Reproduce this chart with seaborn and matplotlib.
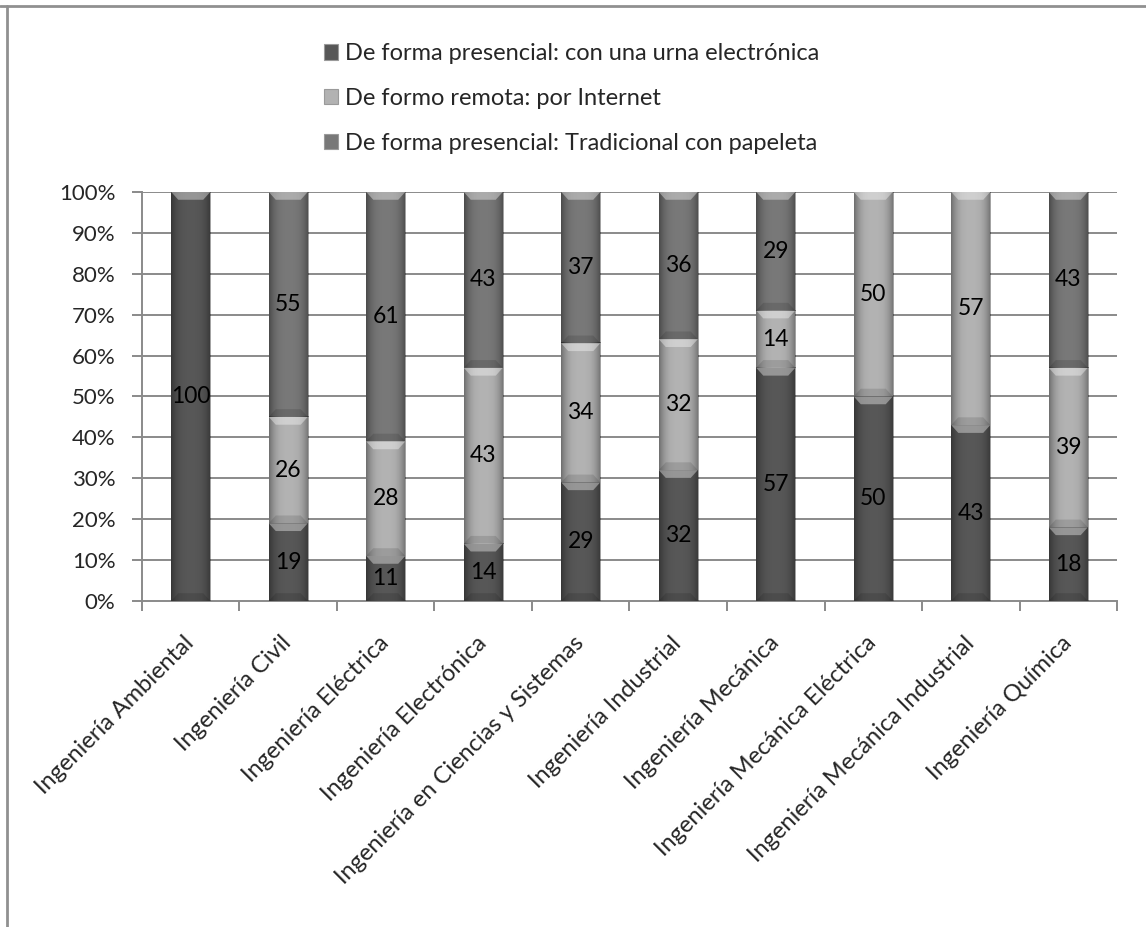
import numpy as np
import pandas as pd
import matplotlib
matplotlib.use("Agg")
import matplotlib.pyplot as plt
from matplotlib.lines import Line2D
from matplotlib.patches import Patch, Polygon
import seaborn as sns

carreras = [
    "Ingeniería Ambiental",
    "Ingeniería Civil",
    "Ingeniería Eléctrica",
    "Ingeniería Electrónica",
    "Ingeniería en Ciencias y Sistemas",
    "Ingeniería Industrial",
    "Ingeniería Mecánica",
    "Ingeniería Mecánica Eléctrica",
    "Ingeniería Mecánica Industrial",
    "Ingeniería Química",
]
urna_electronica = [100, 19, 11, 14, 29, 32, 57, 50, 43, 18]
por_internet = [0, 26, 28, 43, 34, 32, 14, 50, 57, 39]
papeleta = [0, 55, 61, 43, 37, 36, 29, 0, 0, 43]

series_names = [
    "De forma presencial: con una urna electrónica",
    "De formo remota: por Internet",
    "De forma presencial: Tradicional con papeleta",
]
series_colors = ["#575757", "#b2b2b2", "#787878"]
y_ticks = [0, 10, 20, 30, 40, 50, 60, 70, 80, 90, 100]

sns.set_theme(style="white")
plt.rcParams["font.family"] = ["Lato", "DejaVu Sans"]
FS_TICK = 16
FS_XLAB = 17
FS_LEG = 17
FS_VAL = 16.5

df = pd.DataFrame({
    "carrera": carreras,
    "urna": urna_electronica,
    "internet": por_internet,
    "papeleta": papeleta,
})
vals = df[["urna", "internet", "papeleta"]].to_numpy(dtype=float)
totals = vals.sum(axis=1)
pct = vals / totals[:, None] * 100
cum = np.cumsum(pct, axis=1)
df["c1"] = cum[:, 0]
df["c2"] = cum[:, 1]
df["c3"] = cum[:, 2]

fig = plt.figure(figsize=(11.46, 9.27), dpi=100)
ax = fig.add_axes([0.1239, 0.3517, 0.8508, 0.4412])

BW = 0.40
# stacked columns: draw the cumulative totals from the top layer down
for col, color in zip(["c3", "c2", "c1"], series_colors[::-1]):
    sns.barplot(data=df, x="carrera", y=col, order=carreras, color=color,
                width=BW, ax=ax, zorder=3, edgecolor="none", linewidth=0,
                errorbar=None)

# shading on every visible segment: darker sides and a bevelled top edge
shade = np.linspace(-1, 1, 80)
alpha_prof = 0.38 * np.abs(shade) ** 3
grad = np.zeros((1, 80, 4))
grad[..., 3] = alpha_prof
for i in range(len(carreras)):
    x0, x1 = i - BW / 2, i + BW / 2
    lo = 0.0
    for j in range(3):
        hi = cum[i, j]
        if hi - lo > 0:
            ax.imshow(grad, extent=(x0, x1, lo, hi), aspect="auto",
                      zorder=4, interpolation="bilinear")
            bev = 1.9
            inset = BW * 0.18
            top = Polygon([(x0, hi), (x1, hi), (x1 - inset, hi - bev),
                           (x0 + inset, hi - bev)], closed=True,
                          facecolor="white", alpha=0.38, edgecolor="none",
                          zorder=5)
            ax.add_patch(top)
            bot = Polygon([(x0, lo), (x1, lo), (x1 - inset, lo + bev),
                           (x0 + inset, lo + bev)], closed=True,
                          facecolor="black", alpha=0.12, edgecolor="none",
                          zorder=5)
            ax.add_patch(bot)
        lo = hi

# value labels centred in each segment
for i in range(len(carreras)):
    lo = 0.0
    for j in range(3):
        hi = cum[i, j]
        if vals[i, j] > 0:
            ax.text(i, (lo + hi) / 2, f"{vals[i, j]:.0f}", ha="center",
                    va="center", fontsize=FS_VAL, color="black", zorder=6)
        lo = hi

ax.set_xlim(-0.5, len(carreras) - 0.5)
ax.set_ylim(0, 100)
ax.set_xlabel("")
ax.set_ylabel("")

grid_c = "#8a8a8a"
ax.set_yticks(y_ticks)
ax.set_yticklabels([f"{t}%" for t in y_ticks], fontsize=FS_TICK)
for t in y_ticks[1:]:
    ax.axhline(t, color=grid_c, lw=1.4, zorder=1)

ax.set_xticks(range(len(carreras)))
ax.set_xticklabels(carreras, rotation=45, ha="right", rotation_mode="anchor",
                   fontsize=FS_XLAB, va="center")
ax.set_xticks(np.arange(-0.5, len(carreras), 1.0), minor=True)
ax.tick_params(axis="x", which="major", length=0, pad=28)
ax.tick_params(axis="x", which="minor", length=7, width=1.4, color=grid_c,
               direction="out", bottom=True)
ax.tick_params(axis="y", length=7, width=1.4, color=grid_c, direction="out",
               left=True, pad=12)

for side in ["top", "right"]:
    ax.spines[side].set_visible(False)
for side in ["left", "bottom"]:
    ax.spines[side].set_color(grid_c)
    ax.spines[side].set_linewidth(1.4)
    ax.spines[side].set_zorder(2)

handles = [Patch(facecolor=c, edgecolor="#9a9a9a", linewidth=0.8)
           for c in series_colors]
fig.legend(handles, series_names, loc="upper left",
           bbox_to_anchor=(0.272, 0.966), frameon=False, fontsize=FS_LEG,
           handlelength=0.62, handleheight=0.62, handletextpad=0.3,
           labelspacing=1.0, borderpad=0)

# outer chart frame (top and left edges)
fig.add_artist(Line2D([0.0, 1.0], [1 - 6 / 927, 1 - 6 / 927],
                      transform=fig.transFigure, color="#909090", lw=2))
fig.add_artist(Line2D([7 / 1146, 7 / 1146], [0.0, 1 - 6 / 927],
                      transform=fig.transFigure, color="#909090", lw=2))

fig.savefig("out.png", dpi=100, facecolor="white")
